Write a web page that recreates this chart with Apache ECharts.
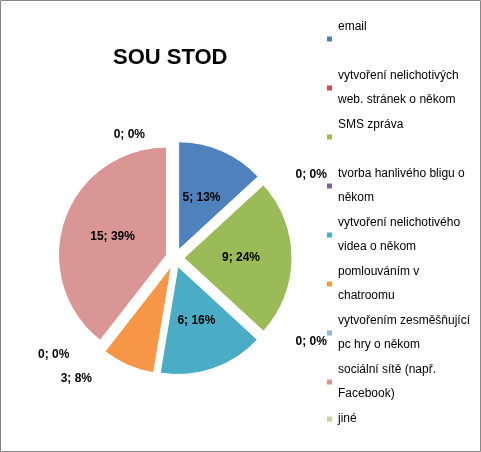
<!DOCTYPE html>
<html><head><meta charset="utf-8">
<style>html,body{margin:0;padding:0;background:#fff}#c{width:481px;height:452px}</style>
<script src="https://cdn.jsdelivr.net/npm/echarts@6/dist/echarts.min.js"></script>
</head><body><div id="c"></div>
<script>
// data
const names = ['email\n ', 'vytvoření nelichotivých\nweb. stránek o někom', 'SMS zpráva\n ',
  'tvorba hanlivého bligu o\nněkom', 'vytvoření nelichotivého\nvidea o někom', 'pomlouváním v\nchatroomu',
  'vytvořením zesměšňující\npc hry o někom', 'sociální sítě (např.\nFacebook)', 'jiné'];
const values = [5, 0, 9, 0, 6, 3, 0, 15, 0];
const colors = ['#4F81BD', '#C0504D', '#9BBB59', '#8064A2', '#4BACC6', '#F79646', '#95B3D7', '#D99694', '#C3D69B'];

const total = values.reduce((a, b) => a + b, 0);
const font = '"Liberation Sans", sans-serif';

const chart = echarts.init(document.getElementById('c'));
chart.setOption({
  animation: false,
  graphic: [{ type: 'rect', shape: { x: 0.5, y: 0.5, width: 480, height: 451 },
    style: { fill: 'none', stroke: '#888', lineWidth: 1 } }],
  title: { text: 'SOU STOD', left: 108, top: 42,
    textStyle: { fontFamily: font, fontSize: 22, fontWeight: 'bold', color: '#000' } },
  legend: {
    orient: 'vertical', left: 320, top: 10, itemWidth: 7, itemHeight: 7, itemGap: 1,
    icon: 'rect', data: names,
    textStyle: { fontFamily: font, fontSize: 12, color: '#000', lineHeight: 24 }
  },
  series: [{
    type: 'pie', center: [175, 258], radius: [0, 108], startAngle: 90, clockwise: true,
    selectedMode: 'multiple', selectedOffset: 9,
    avoidLabelOverlap: false, minShowLabelAngle: 0,
    labelLine: { show: false },
    itemStyle: { borderColor: '#fff', borderWidth: 1 },
    data: names.map((n, i) => ({
      name: n, value: values[i], selected: values[i] > 0,
      itemStyle: { color: colors[i] },
      label: {
        show: true, position: (values[i] > 0 && values[i] > 3) ? 'inside' : 'outside',
        distanceToLabelLine: 0,
        formatter: values[i] + '; ' + Math.round(values[i] / total * 100) + '%',
        fontFamily: font, fontSize: 12, fontWeight: 'bold', color: '#000'
      }
    }))
  }]
});
</script></body></html>
